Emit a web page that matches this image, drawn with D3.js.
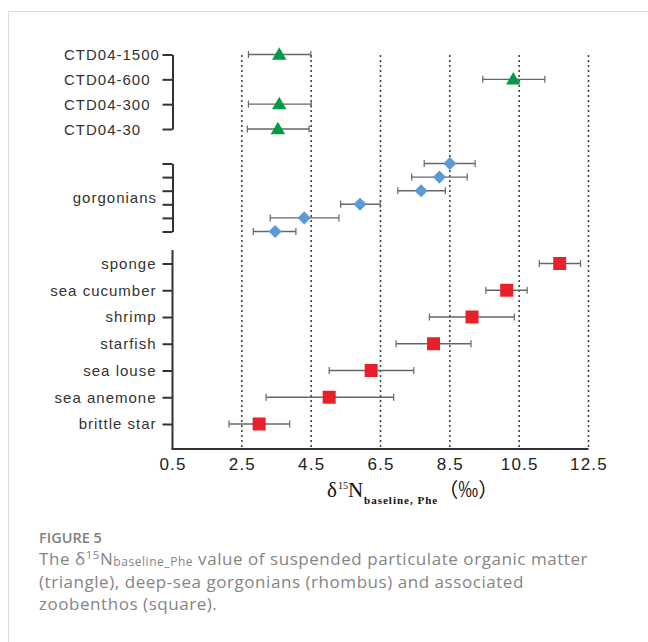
<!DOCTYPE html>
<html>
<head>
<meta charset="utf-8">
<script src="https://cdn.jsdelivr.net/npm/d3@7"></script>
<style>
  html, body { margin: 0; padding: 0; background: #fff; }
  svg { display: block; }
</style>
</head>
<body>
<svg id="chart" width="648" height="642"></svg>
<script>
// ---------- DATA ----------
const ctdLabels = ["CTD04-1500", "CTD04-600", "CTD04-300", "CTD04-30"];
const ctdMean   = [3.58, 10.33, 3.58, 3.54];
const ctdLow    = [2.69, 9.45, 2.69, 2.66];
const ctdHigh   = [4.49, 11.24, 4.50, 4.44];

const gorgIds   = ["g1", "g2", "g3", "g4", "g5", "g6"];
const gorgLabel = "gorgonians";
const gorgMean  = [8.50, 8.20, 7.67, 5.91, 4.30, 3.46];
const gorgLow   = [7.76, 7.40, 7.00, 5.35, 3.32, 2.83];
const gorgHigh  = [9.23, 9.00, 8.37, 6.49, 5.30, 4.06];

const zooLabels = ["sponge", "sea cucumber", "shrimp", "starfish", "sea louse", "sea anemone", "brittle star"];
const zooMean   = [11.67, 10.14, 9.14, 8.03, 6.23, 5.02, 3.00];
const zooLow    = [11.08, 9.54, 7.91, 6.95, 5.02, 3.20, 2.13];
const zooHigh   = [12.27, 10.73, 10.36, 9.11, 7.46, 6.88, 3.88];

const xTickValues = [0.5, 2.5, 4.5, 6.5, 8.5, 10.5, 12.5];
const gridValues  = [2.5, 4.5, 6.5, 8.5, 10.5, 12.5];

// ---------- LAYOUT ----------
const svg = d3.select("#chart");
const axisX = 172.5, axisY = 449;
const gridTop = 55;

const x = d3.scaleLinear().domain([0.5, 12.5]).range([axisX, 588.5]);
const yCtd  = d3.scalePoint().domain(ctdLabels).range([54.5, 129]);
const yGorg = d3.scalePoint().domain(gorgIds).range([163.5, 231.5]);
const yZoo  = d3.scalePoint().domain(zooLabels).range([263.5, 424]);

const fontSans = "'Liberation Sans', Arial, sans-serif";
const axisColor = "#333";
const labelColor = "#333";

// frame
svg.append("line").attr("x1", 8).attr("x2", 648).attr("y1", 11.5).attr("y2", 11.5)
  .attr("stroke", "#dcdcdc").attr("stroke-width", 1);
svg.append("line").attr("x1", 8.5).attr("x2", 8.5).attr("y1", 11.5).attr("y2", 642)
  .attr("stroke", "#dcdcdc").attr("stroke-width", 1);

// dotted grid
svg.append("g").selectAll("line").data(gridValues).join("line")
  .attr("x1", d => x(d)).attr("x2", d => x(d))
  .attr("y1", gridTop).attr("y2", axisY)
  .attr("stroke", "#444").attr("stroke-width", 1.6)
  .attr("stroke-dasharray", "2,3");

// helpers
function drawSeries(ids, scaleY, mean, low, high, shape, color) {
  const data = ids.map((id, i) => ({ id, m: mean[i], lo: low[i], hi: high[i] }));
  const g = svg.append("g");
  const cap = 3.5;
  g.selectAll("line.err").data(data).join("line").attr("class", "err")
    .attr("x1", d => x(d.lo)).attr("x2", d => x(d.hi))
    .attr("y1", d => scaleY(d.id)).attr("y2", d => scaleY(d.id))
    .attr("stroke", "#666").attr("stroke-width", 1.4);
  ["lo", "hi"].forEach(k => {
    g.selectAll("line.cap" + k).data(data).join("line").attr("class", "cap" + k)
      .attr("x1", d => x(d[k])).attr("x2", d => x(d[k]))
      .attr("y1", d => scaleY(d.id) - cap).attr("y2", d => scaleY(d.id) + cap)
      .attr("stroke", "#666").attr("stroke-width", 1.2);
  });
  let sym, rot = 0, dy = 0;
  if (shape === "triangle") { sym = d3.symbol(d3.symbolTriangle, 90); dy = 1; }
  else if (shape === "diamond") { sym = d3.symbol(d3.symbolSquare, 86); rot = 45; }
  else { sym = d3.symbol(d3.symbolSquare, 169); }
  g.selectAll("path.mk").data(data).join("path").attr("class", "mk")
    .attr("d", sym)
    .attr("transform", d => `translate(${x(d.m)},${scaleY(d.id) + dy}) rotate(${rot})`)
    .attr("fill", color);
}

drawSeries(ctdLabels, yCtd, ctdMean, ctdLow, ctdHigh, "triangle", "#009a46");
drawSeries(gorgIds, yGorg, gorgMean, gorgLow, gorgHigh, "diamond", "#5b9bd5");
drawSeries(zooLabels, yZoo, zooMean, zooLow, zooHigh, "square", "#e8202a");

// ---------- AXES ----------
function styleAxis(g) {
  g.selectAll("path.domain").attr("stroke", axisColor).attr("stroke-width", 2);
  g.selectAll(".tick line").attr("stroke", axisColor).attr("stroke-width", 2);
  g.selectAll(".tick text").attr("fill", labelColor)
    .style("font-family", fontSans).style("font-size", "15px").style("letter-spacing", "1px");
}

// CTD axis (labels left-aligned)
const gCtd = svg.append("g").attr("transform", `translate(${axisX},0)`)
  .call(d3.axisLeft(yCtd).tickSize(10).tickSizeOuter(0));
styleAxis(gCtd);
gCtd.selectAll(".tick text").attr("x", 64 - axisX).attr("text-anchor", "start").attr("dy", "0.35em");

// gorgonian axis (no per-tick labels)
const gGorg = svg.append("g").attr("transform", `translate(${axisX},0)`)
  .call(d3.axisLeft(yGorg).tickSize(10).tickSizeOuter(0).tickFormat(""));
styleAxis(gGorg);
svg.append("text").text(gorgLabel)
  .attr("x", 157).attr("y", (yGorg("g3") + yGorg("g4")) / 2).attr("dy", "0.35em")
  .attr("text-anchor", "end").attr("fill", labelColor)
  .style("font-family", fontSans).style("font-size", "15px").style("letter-spacing", "1px");

// zoobenthos axis
const gZoo = svg.append("g").attr("transform", `translate(${axisX},0)`)
  .call(d3.axisLeft(yZoo).tickSize(10).tickSizeOuter(0).tickPadding(6));
styleAxis(gZoo);
gZoo.select("path.domain").remove();
gZoo.append("line").attr("x1", 0).attr("x2", 0).attr("y1", 250).attr("y2", axisY)
  .attr("stroke", axisColor).attr("stroke-width", 2);

// x axis
const gX = svg.append("g").attr("transform", `translate(0,${axisY})`)
  .call(d3.axisBottom(x).tickValues(xTickValues).tickSize(0).tickPadding(9).tickFormat(d3.format(".1f")));
gX.select("path.domain").attr("stroke", axisColor).attr("stroke-width", 2)
  .attr("d", `M${axisX - 1},0H${x(12.5)}`);
gX.selectAll(".tick text").attr("fill", "#222")
  .style("font-family", fontSans).style("font-size", "17px").style("letter-spacing", "1.2px");

// x axis title
const serif = "'Liberation Serif', 'Times New Roman', serif";
const title = svg.append("text").attr("x", 327).attr("y", 497)
  .attr("fill", "#111").style("font-family", serif);
title.append("tspan").text("δ").style("font-size", "21px");
title.append("tspan").text("15").style("font-size", "10px").attr("dy", -8).attr("dx", 1);
title.append("tspan").text("N").style("font-size", "21px").attr("dy", 8).style("letter-spacing", "1px");
title.append("tspan").text("baseline, Phe").style("font-size", "11px").style("font-weight", "bold")
  .style("letter-spacing", "1px").attr("dy", 7);
title.append("tspan").text("（‰）").style("font-size", "20px").attr("dy", -7).attr("dx", 0)
  .style("font-family", "'Noto Sans CJK SC', serif");

// ---------- CAPTION ----------
const capFont = "'Open Sans', 'Noto Sans', sans-serif";
const capColor = "#858585";
const capSize = "17px", capSpacing = "0.55px";
svg.append("text").text("FIGURE 5").attr("x", 39).attr("y", 543)
  .attr("fill", "#808080").style("font-family", capFont).style("font-size", "14.5px").style("font-weight", 600);

const c1 = svg.append("text").attr("x", 39).attr("y", 565).attr("fill", capColor)
  .style("font-family", capFont).style("font-size", capSize).style("letter-spacing", capSpacing);
c1.append("tspan").text("The δ");
c1.append("tspan").text("15").style("font-size", "11.5px").attr("dy", -6);
c1.append("tspan").text("N").attr("dy", 6);
c1.append("tspan").text("baseline_Phe").style("font-size", "12px").attr("dy", 1);
c1.append("tspan").text(" value of suspended particulate organic matter").attr("dy", -1);

svg.append("text").text("(triangle), deep-sea gorgonians (rhombus) and associated")
  .attr("x", 39).attr("y", 588).attr("fill", capColor)
  .style("font-family", capFont).style("font-size", capSize).style("letter-spacing", capSpacing);
svg.append("text").text("zoobenthos (square).")
  .attr("x", 39).attr("y", 610).attr("fill", capColor)
  .style("font-family", capFont).style("font-size", capSize).style("letter-spacing", capSpacing);
</script>
</body>
</html>
